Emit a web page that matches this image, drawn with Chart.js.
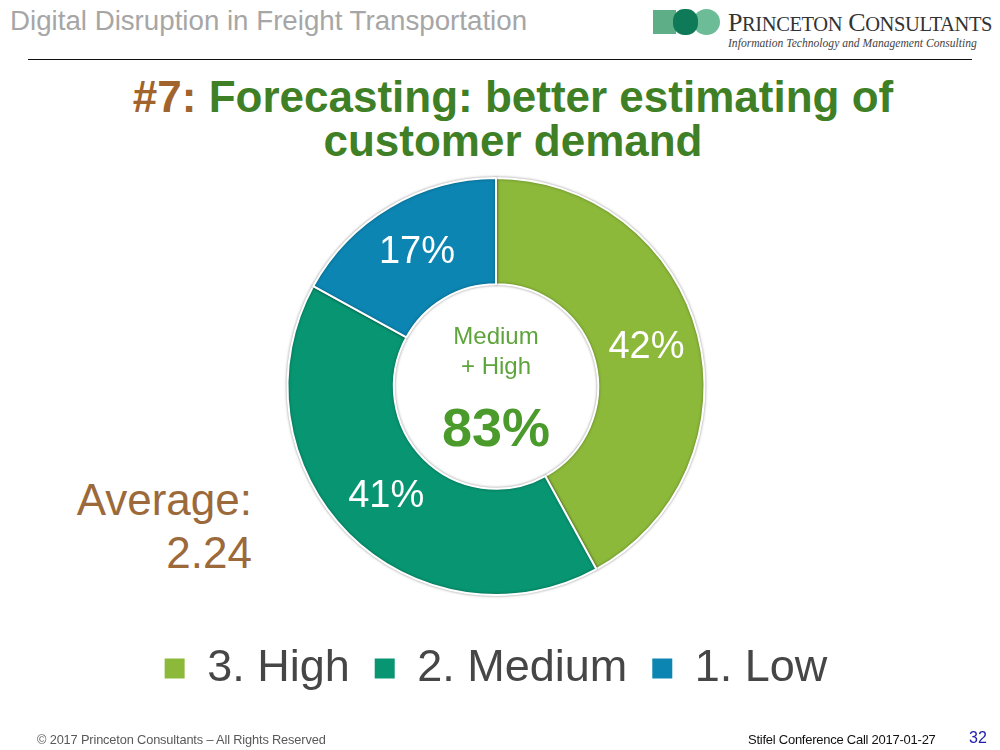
<!DOCTYPE html>
<html>
<head>
<meta charset="utf-8">
<script src="https://cdn.jsdelivr.net/npm/chart.js@4.4.0/dist/chart.umd.min.js"></script>
<style>
  html, body { margin:0; padding:0; background:#fff; }
  body { width:1000px; height:750px; position:relative; overflow:hidden; font-family:"Liberation Sans", Arial, sans-serif; }
  #wrap { position:absolute; left:0; top:0; width:1000px; height:750px; }
  .abs { position:absolute; white-space:nowrap; }
  #hdr { left:10px; top:5px; font-size:27.7px; color:#a6a6a6; }
  #rule { left:28px; top:59px; width:944px; height:0; border-top:1.5px solid #111; }
  #title { left:13px; width:1000px; top:75px; text-align:center; font-weight:bold; font-size:44px; line-height:44px; color:#3f7f25; }
  #title .num { color:#a0642c; }
  #avg { right:748px; top:473px; text-align:right; font-size:44px; line-height:53px; color:#9c6a3a; }
  #foot1 { left:37px; top:732px; font-size:12.8px; color:#595959; letter-spacing:-0.15px; }
  #foot2 { left:748px; top:732px; font-size:13px; color:#111; letter-spacing:-0.25px; }
  #page { left:969px; top:729px; font-size:16px; color:#2020b0; }
  #logo { left:653px; top:8px; width:345px; height:45px; }
  .lg1 { position:absolute; left:0; top:2px; width:23px; height:24px; background:#5eae88; }
  .lg2 { position:absolute; left:40px; top:1px; width:27px; height:26px; border-radius:50%; background:#6cbc98; }
  .lg3 { position:absolute; left:20px; top:1px; width:25px; height:26px; border-radius:45%; background:#0e7a58; }
  .lgt { position:absolute; left:75px; top:0px; font-family:"Liberation Serif", serif; font-size:26px; color:#333; letter-spacing:-0.4px; }
  .lgt small { font-size:20.5px; }
  .lgs { position:absolute; left:75px; top:29px; font-family:"Liberation Serif", serif; font-style:italic; font-size:11.6px; color:#444; }
</style>
</head>
<body>
<div class="abs" id="hdr">Digital Disruption in Freight Transportation</div>
<div class="abs" id="rule"></div>
<div class="abs" id="logo">
  <div class="lg1"></div><div class="lg2"></div><div class="lg3"></div>
  <div class="lgt">P<small>RINCETON</small> C<small>ONSULTANTS</small></div>
  <div class="lgs">Information Technology and Management Consulting</div>
</div>
<div class="abs" id="title"><span class="num">#7:</span> Forecasting: better estimating of<br>customer demand</div>
<div class="abs" id="avg">Average:<br>2.24</div>
<div id="wrap"><canvas id="c"></canvas></div>
<div class="abs" id="foot1">© 2017 Princeton Consultants – All Rights Reserved</div>
<div class="abs" id="foot2">Stifel Conference Call 2017-01-27</div>
<div class="abs" id="page">32</div>
<script>
const categories = ['3. High', '2. Medium', '1. Low'];
const values = [42, 41, 17];
const colors = ['#8cb93a', '#079572', '#0c85b2'];
const centerLines = ['Medium', '+ High'];
const centerValue = values[0] + values[1];

const FONT = '"Liberation Sans", Arial, sans-serif';
const LEGEND_TEXT = '#464646';

const sliceLabels = {
  id: 'sliceLabels',
  beforeDatasetDraw(chart) {
    const ctx = chart.ctx;
    ctx.save();
    ctx.shadowColor = 'rgba(0,0,0,0.35)';
    ctx.shadowBlur = 3;
  },
  afterDatasetDraw(chart) {
    chart.ctx.restore();
  },
  afterDatasetsDraw(chart) {
    const ctx = chart.ctx;
    const meta = chart.getDatasetMeta(0);
    ctx.save();
    ctx.textAlign = 'center';
    ctx.textBaseline = 'middle';
    ctx.fillStyle = '#ffffff';
    ctx.font = '38px ' + FONT;
    meta.data.forEach((arc, i) => {
      const p = arc.tooltipPosition();
      ctx.fillText(values[i] + '%', p.x, p.y);
    });
    const a = meta.data[0];
    const cx = a.x, cy = a.y;
    ctx.fillStyle = '#5ea43c';
    ctx.font = '24px ' + FONT;
    ctx.fillText(centerLines[0], cx, cy - 49);
    ctx.fillText(centerLines[1], cx, cy - 19);
    ctx.fillStyle = '#4b9a2c';
    ctx.font = 'bold 54px ' + FONT;
    ctx.fillText(centerValue + '%', cx, cy + 45);
    ctx.restore();
  }
};

new Chart(document.getElementById('c'), {
  type: 'doughnut',
  data: {
    labels: categories,
    datasets: [{
      data: values,
      backgroundColor: colors,
      borderColor: '#ffffff',
      borderWidth: 2
    }]
  },
  options: {
    responsive: true,
    maintainAspectRatio: false,
    animation: false,
    cutout: '49%',
    layout: { padding: { top: 177, left: 0, right: 8, bottom: 49 } },
    plugins: {
      tooltip: { enabled: false },
      legend: {
        position: 'bottom',
        title: { display: true, text: ' ', font: { size: 10 }, padding: { top: 6, bottom: 7 } },
        labels: {
          font: { size: 45, family: FONT },
          color: LEGEND_TEXT,
          boxWidth: 20,
          boxHeight: 20,
          padding: 25,
          generateLabels(chart) {
            return categories.map((t, i) => ({
              text: t, fillStyle: colors[i], strokeStyle: colors[i], lineWidth: 0,
              fontColor: LEGEND_TEXT, hidden: false, index: i
            }));
          }
        }
      }
    }
  },
  plugins: [sliceLabels]
});
</script>
</body>
</html>
